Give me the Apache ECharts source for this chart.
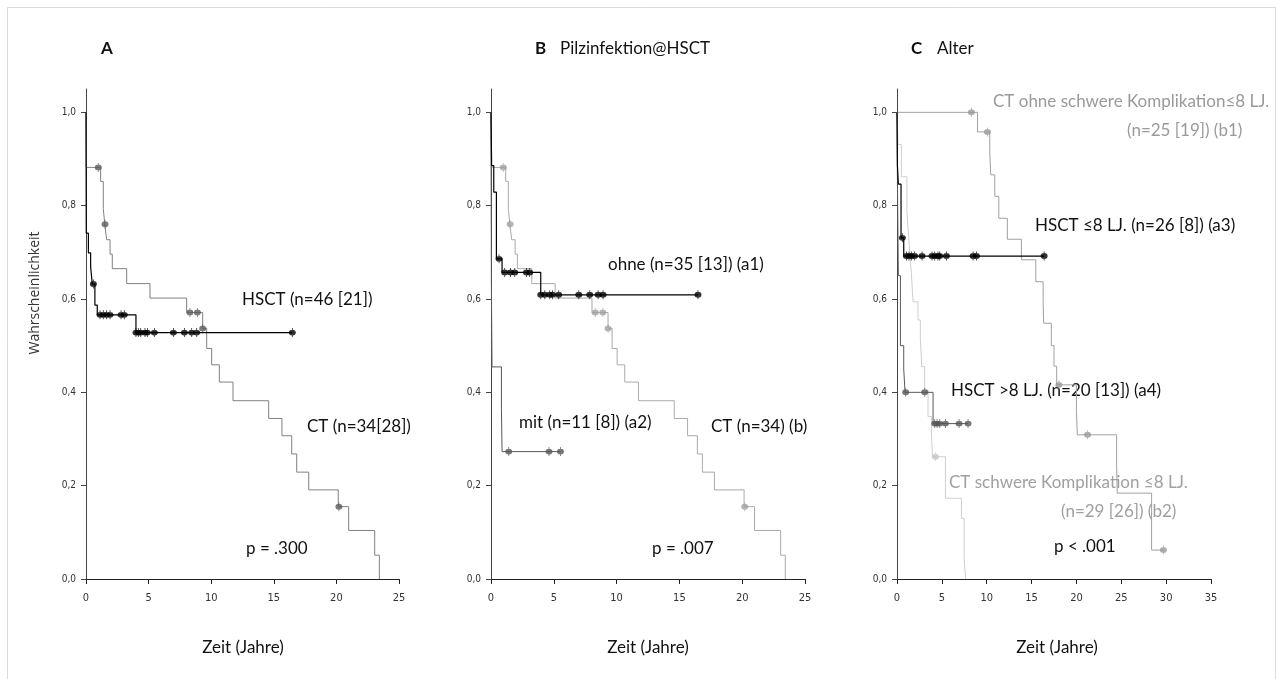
<!DOCTYPE html>
<html><head><meta charset="utf-8">
<script src="https://cdn.jsdelivr.net/npm/echarts@6/dist/echarts.min.js"></script>
<style>html,body{margin:0;padding:0;background:#fff}#c{width:1283px;height:679px}</style>
</head><body><div id="c"></div>
<script>
// ---------- tick labels ----------
const yTicks = [0, 0.2, 0.4, 0.6, 0.8, 1.0];
const xMaxAB = 25, xMaxC = 35;

// ---------- Panel A & B: CT (n=34) ----------
const ctTime = [0, 0.02, 1.17, 1.38, 1.5, 1.65, 1.92, 2.1, 3.25, 5.11, 8.04, 9.32, 9.64, 10.04, 10.65, 11.74, 14.59, 15.65, 16.43, 16.83, 17.79, 20.15, 20.98, 23.06, 23.43];
const ctSurv = [1.0, 0.882, 0.852, 0.794, 0.76, 0.727, 0.696, 0.665, 0.633, 0.602, 0.571, 0.537, 0.494, 0.459, 0.422, 0.382, 0.344, 0.307, 0.268, 0.229, 0.191, 0.155, 0.104, 0.051, 0];
const ctCensTime = [0.98, 1.52, 8.3, 8.9, 9.32, 20.2];
const ctCensSurv = [0.882, 0.76, 0.571, 0.571, 0.537, 0.155];

// ---------- Panel A: HSCT (n=46) ----------
const hsctTime = [0, 0.02, 0.19, 0.37, 0.5, 0.71, 0.9, 3.99, 16.48];
const hsctSurv = [1.0, 0.741, 0.699, 0.669, 0.632, 0.587, 0.566, 0.528, 0.528];
const hsctCensTime = [0.59, 1.12, 1.38, 1.65, 1.92, 2.8, 3.06, 3.99, 4.18, 4.37, 4.71, 4.9, 5.46, 6.98, 7.86, 8.44, 8.84, 16.48];
const hsctCensSurv = [0.632, 0.566, 0.566, 0.566, 0.566, 0.566, 0.566, 0.528, 0.528, 0.528, 0.528, 0.528, 0.528, 0.528, 0.528, 0.528, 0.528, 0.528];

// ---------- Panel B: ohne Pilzinfektion (a1), mit (a2) ----------
const ohneTime = [0, 0.05, 0.22, 0.43, 0.88, 3.96, 16.48];
const ohneSurv = [1.0, 0.886, 0.829, 0.686, 0.657, 0.609, 0.609];
const ohneCensTime = [0.64, 1.09, 1.55, 1.89, 2.82, 3.08, 3.96, 4.28, 4.68, 4.89, 5.39, 6.99, 7.86, 8.53, 8.92, 16.48];
const ohneCensSurv = [0.686, 0.657, 0.657, 0.657, 0.657, 0.657, 0.609, 0.609, 0.609, 0.609, 0.609, 0.609, 0.609, 0.609, 0.609, 0.609];
const mitTime = [0, 0.03, 0.08, 0.83, 0.88, 5.53];
const mitSurv = [1.0, 0.636, 0.4545, 0.364, 0.273, 0.273];
const mitCensTime = [1.41, 4.62, 5.53];
const mitCensSurv = [0.273, 0.273, 0.273];

// ---------- Panel C: Alter ----------
const a3Time = [0, 0.05, 0.15, 0.45, 0.75, 16.4];
const a3Surv = [1.0, 0.885, 0.846, 0.731, 0.692, 0.692];
const a3CensTime = [0.6, 1.05, 1.34, 1.6, 1.97, 2.79, 3.9, 4.2, 4.57, 4.76, 5.51, 8.48, 8.86, 16.4];
const a3CensSurv = [0.731, 0.692, 0.692, 0.692, 0.692, 0.692, 0.692, 0.692, 0.692, 0.692, 0.692, 0.692, 0.692, 0.692];
const a4Time = [0, 0.05, 0.15, 0.38, 0.75, 0.9, 4.02, 7.92];
const a4Surv = [1.0, 0.85, 0.65, 0.5, 0.45, 0.4, 0.333, 0.333];
const a4CensTime = [0.97, 3.09, 4.2, 4.46, 4.76, 5.4, 6.92, 7.92];
const a4CensSurv = [0.4, 0.4, 0.333, 0.333, 0.333, 0.333, 0.333, 0.333];
const b1Time = [0, 8.97, 10.34, 10.45, 10.9, 11.35, 12.3, 13.87, 15.47, 16.29, 16.35, 17.2, 17.5, 17.8, 20.0, 20.1, 24.48, 24.55, 28.38, 29.7];
const b1Surv = [1.0, 0.958, 0.913, 0.866, 0.82, 0.773, 0.728, 0.684, 0.637, 0.592, 0.548, 0.5, 0.456, 0.416, 0.359, 0.309, 0.244, 0.184, 0.062, 0.062];
const b1CensTime = [8.3, 10.08, 18.04, 21.24, 29.7];
const b1CensSurv = [1.0, 0.958, 0.416, 0.309, 0.062];
const b2Time = [0, 0.1, 0.49, 1.1, 1.2, 1.42, 1.6, 1.79, 2.34, 2.6, 2.75, 3.09, 3.46, 3.83, 3.95, 5.4, 7.18, 7.48, 7.66];
const b2Surv = [1.0, 0.931, 0.862, 0.793, 0.759, 0.70, 0.655, 0.594, 0.555, 0.519, 0.455, 0.405, 0.348, 0.319, 0.262, 0.173, 0.13, 0.044, 0];
const b2CensTime = [4.28];
const b2CensSurv = [0.262];

// ---------- texts ----------
const yTitle = 'Wahrscheinlichkeit';
const xTitle = 'Zeit (Jahre)';

const zip = (a, b) => a.map((v, i) => [v, b[i]]);
const censSym = 'path://M2.6,0H3.4V10H2.6Z M3,1.7A3.3,3.3 0 1 1 2.99,1.7Z';

function kmLine(idx, t, s, color, w, z) {
  return { type: 'line', step: 'end', xAxisIndex: idx, yAxisIndex: idx, data: zip(t, s),
    showSymbol: false, symbol: 'none', lineStyle: { color: color, width: w }, z: z, silent: true };
}
function cens(idx, t, s, color, z) {
  return { type: 'scatter', xAxisIndex: idx, yAxisIndex: idx, data: zip(t, s), symbol: censSym,
    symbolSize: [7, 9], itemStyle: { color: color }, z: z + 1, silent: true };
}

const grids = [
  { left: 86, top: 89, width: 313, height: 490 },
  { left: 491, top: 89, width: 314, height: 490 },
  { left: 897, top: 89, width: 314, height: 490 }
];
const labelFont = "'Liberation Sans Narrow', 'DejaVu Sans Condensed', Arial, sans-serif";
function xAx(i, max) {
  return { gridIndex: i, type: 'value', min: 0, max: max, interval: 5,
    axisLine: { lineStyle: { color: '#222', width: 1 } },
    axisTick: { show: true, length: 5, lineStyle: { color: '#222' } },
    axisLabel: { color: '#333', fontSize: 11, fontFamily: labelFont, margin: 14 },
    splitLine: { show: false } };
}
function yAx(i) {
  return { gridIndex: i, type: 'value', min: 0, max: 1.05,
    axisLine: { show: true, lineStyle: { color: '#444', width: 1 } },
    axisTick: { show: true, length: 5, lineStyle: { color: '#444' }, customValues: yTicks },
    axisLabel: { color: '#333', fontSize: 10, fontFamily: labelFont, margin: 10, customValues: yTicks,
      formatter: v => v.toFixed(1).replace('.', ',') },
    splitLine: { show: false } };
}

const txtFont = "Lato, 'Open Sans', sans-serif";
function T(x, y, text, opts) {
  opts = opts || {};
  return { type: 'text', x: x, y: y, silent: true, rotation: opts.rot || 0,
    style: { text: text, fill: opts.fill || '#111', align: opts.align || 'left', verticalAlign: 'middle',
      font: (opts.bold ? 'bold ' : '') + (opts.size || 17) + 'px ' + (opts.family || txtFont) } };
}

const graphics = [
  { type: 'rect', shape: { x: 7.5, y: 7.5, width: 1268, height: 700 }, style: { fill: 'none', stroke: '#d9d9d9', lineWidth: 1 }, silent: true },
  T(35, 293, yTitle, { rot: Math.PI / 2, align: 'center', size: 14, family: "'Open Sans', sans-serif", fill: '#333' }),
  T(243, 648, xTitle, { align: 'center' }),
  T(648, 648, xTitle, { align: 'center' }),
  T(1057, 648, xTitle, { align: 'center' }),
  // titles
  T(101, 49, 'A', { bold: true }),
  T(535, 49, 'B', { bold: true }),
  T(560, 49, 'Pilzinfektion@HSCT'),
  T(911, 49, 'C', { bold: true }),
  T(937, 49, 'Alter'),
  // panel A
  T(242, 300, 'HSCT (n=46 [21])'),
  T(307, 427, 'CT (n=34[28])'),
  T(246, 549, 'p = .300'),
  // panel B
  T(608, 265, 'ohne (n=35 [13]) (a1)'),
  T(519, 423, 'mit (n=11 [8]) (a2)'),
  T(711, 427, 'CT (n=34) (b)'),
  T(652, 549, 'p = .007'),
  // panel C
  T(993, 102, 'CT ohne schwere Komplikation≤8 LJ.', { fill: '#9a9a9a' }),
  T(1127, 131, '(n=25 [19]) (b1)', { fill: '#9a9a9a' }),
  T(1035, 226, 'HSCT ≤8 LJ. (n=26 [8]) (a3)'),
  T(951, 391, 'HSCT >8 LJ. (n=20 [13]) (a4)'),
  T(949, 483, 'CT schwere Komplikation ≤8 LJ.', { fill: '#a0a0a0' }),
  T(1061, 512, '(n=29 [26]) (b2)', { fill: '#a0a0a0' }),
  T(1054, 547, 'p < .001')
];

const series = [
  // A
  kmLine(0, ctTime, ctSurv, '#808080', 1, 2), cens(0, ctCensTime, ctCensSurv, '#5a5a5a', 2),
  kmLine(0, hsctTime, hsctSurv, '#000', 1.2, 4), cens(0, hsctCensTime, hsctCensSurv, '#000', 4),
  // B
  kmLine(1, ctTime, ctSurv, '#aaaaaa', 1, 2), cens(1, ctCensTime, ctCensSurv, '#a0a0a0', 2),
  kmLine(1, mitTime, mitSurv, '#595959', 1, 3), cens(1, mitCensTime, mitCensSurv, '#555', 3),
  kmLine(1, ohneTime, ohneSurv, '#000', 1.2, 4), cens(1, ohneCensTime, ohneCensSurv, '#000', 4),
  // C
  kmLine(2, b2Time, b2Surv, '#cfcfcf', 1, 1), cens(2, b2CensTime, b2CensSurv, '#c4c4c4', 1),
  kmLine(2, b1Time, b1Surv, '#a0a0a0', 1, 2), cens(2, b1CensTime, b1CensSurv, '#999', 2),
  kmLine(2, a4Time, a4Surv, '#595959', 1, 3), cens(2, a4CensTime, a4CensSurv, '#555', 3),
  kmLine(2, a3Time, a3Surv, '#000', 1.2, 4), cens(2, a3CensTime, a3CensSurv, '#000', 4)
];

const chart = echarts.init(document.getElementById('c'), null, { renderer: 'canvas' });
chart.setOption({
  backgroundColor: '#fff',
  animation: false,
  grid: grids,
  xAxis: [xAx(0, xMaxAB), xAx(1, xMaxAB), xAx(2, xMaxC)],
  yAxis: [yAx(0), yAx(1), yAx(2)],
  series: series,
  graphic: graphics
});
</script></body></html>
